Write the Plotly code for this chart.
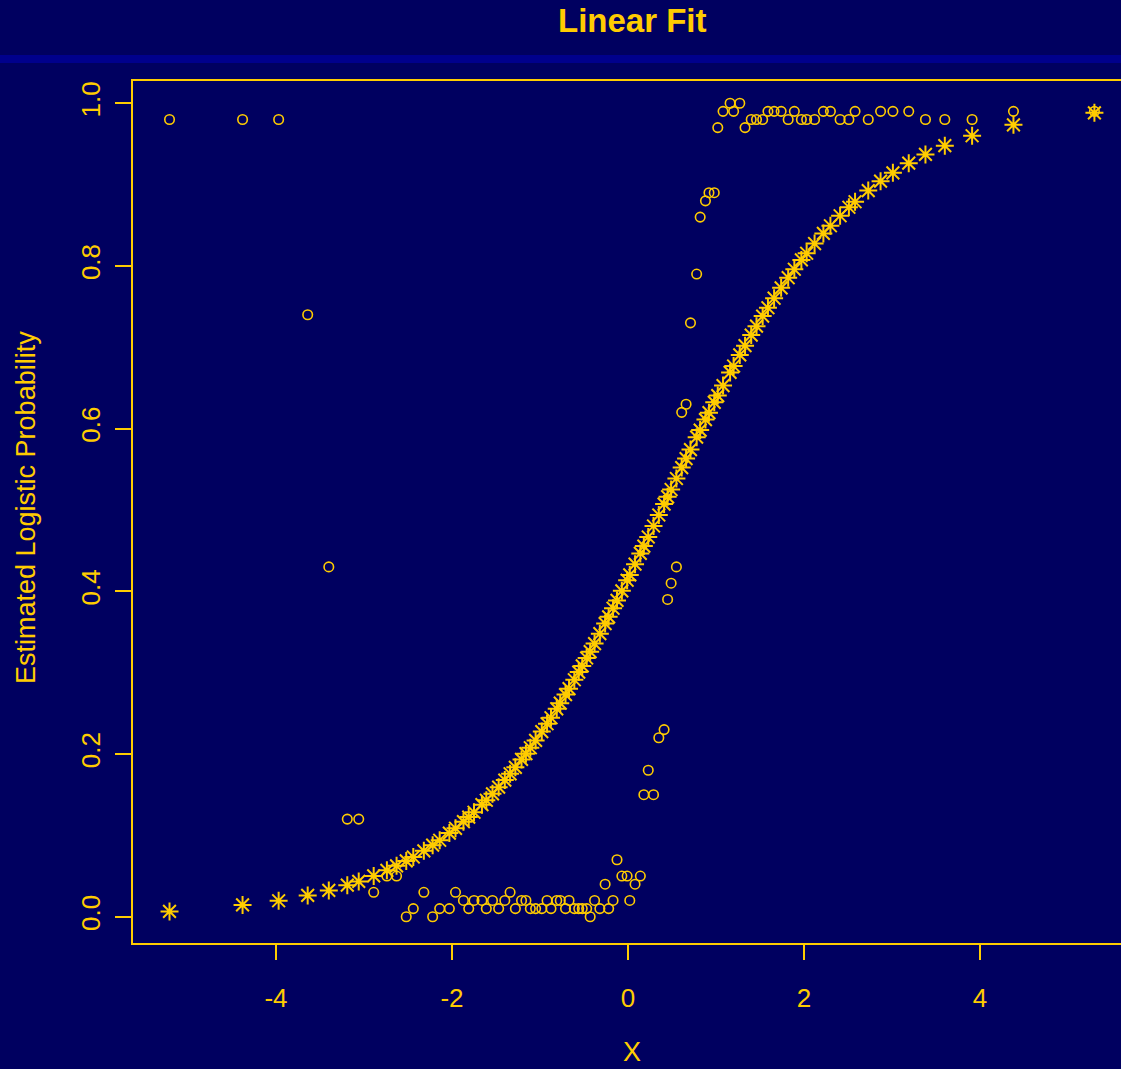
import plotly.graph_objects as go

# ---- data ----
x_values = [
    -5.21, -4.38, -3.97, -3.64, -3.40, -3.19, -3.06, -2.89, -2.74, -2.63,
    -2.52, -2.44, -2.32, -2.22, -2.14, -2.03, -1.96, -1.87, -1.81, -1.75,
    -1.66, -1.61, -1.54, -1.47, -1.40, -1.34, -1.28, -1.21, -1.16, -1.11,
    -1.05, -0.98, -0.92, -0.875, -0.81, -0.77, -0.71, -0.67, -0.61, -0.56,
    -0.52, -0.47, -0.43, -0.38, -0.32, -0.26, -0.22, -0.17, -0.125, -0.07,
    -0.01, 0.02, 0.08, 0.14, 0.18, 0.23, 0.29, 0.35, 0.41, 0.45,
    0.49, 0.55, 0.61, 0.66, 0.71, 0.78, 0.82, 0.88, 0.92, 0.98,
    1.02, 1.08, 1.16, 1.20, 1.27, 1.33, 1.40, 1.46, 1.53, 1.59,
    1.66, 1.74, 1.82, 1.89, 1.97, 2.03, 2.12, 2.22, 2.30, 2.41,
    2.51, 2.58, 2.73, 2.87, 3.01, 3.19, 3.38, 3.60, 3.91, 4.38, 5.30,
]

observed_prop = [
    0.98, 0.98, 0.98, 0.74, 0.43, 0.12, 0.12, 0.03, 0.05, 0.05,
    0.00, 0.01, 0.03, 0.00, 0.01, 0.01, 0.03, 0.02, 0.01, 0.02,
    0.02, 0.01, 0.02, 0.01, 0.02, 0.03, 0.01, 0.02, 0.02, 0.01,
    0.01, 0.01, 0.02, 0.01, 0.02, 0.02, 0.01, 0.02, 0.01, 0.01,
    0.01, 0.01, 0.00, 0.02, 0.01, 0.04, 0.01, 0.02, 0.07, 0.05,
    0.05, 0.02, 0.04, 0.05, 0.15, 0.18, 0.15, 0.22, 0.23, 0.39,
    0.41, 0.43, 0.62, 0.63, 0.73, 0.79, 0.86, 0.88, 0.89, 0.89,
    0.97, 0.99, 1.00, 0.99, 1.00, 0.97, 0.98, 0.98, 0.98, 0.99,
    0.99, 0.99, 0.98, 0.99, 0.98, 0.98, 0.98, 0.99, 0.99, 0.98,
    0.98, 0.99, 0.98, 0.99, 0.99, 0.99, 0.98, 0.98, 0.98, 0.99, 0.99,
]

fitted_prob = [
    0.0065, 0.0145, 0.0196, 0.0262, 0.0323, 0.0388, 0.0434, 0.0502, 0.0570, 0.0626,
    0.0686, 0.0734, 0.0810, 0.0880, 0.0940, 0.1028, 0.1087, 0.1168, 0.1225, 0.1284,
    0.1377, 0.1432, 0.1511, 0.1593, 0.1680, 0.1757, 0.1836, 0.1934, 0.2004, 0.2077,
    0.2167, 0.2276, 0.2372, 0.2446, 0.2556, 0.2625, 0.2731, 0.2803, 0.2913, 0.3007,
    0.3083, 0.3180, 0.3258, 0.3358, 0.3479, 0.3603, 0.3686, 0.3792, 0.3888, 0.4006,
    0.4136, 0.4202, 0.4334, 0.4466, 0.4556, 0.4668, 0.4803, 0.4938, 0.5072, 0.5162,
    0.5252, 0.5387, 0.5521, 0.5632, 0.5742, 0.5895, 0.5982, 0.6111, 0.6196, 0.6323,
    0.6406, 0.6529, 0.6691, 0.6770, 0.6906, 0.7020, 0.7150, 0.7259, 0.7383, 0.7486,
    0.7603, 0.7731, 0.7855, 0.7959, 0.8074, 0.8156, 0.8275, 0.8399, 0.8494, 0.8617,
    0.8721, 0.8789, 0.8926, 0.9042, 0.9144, 0.9263, 0.9371, 0.9478, 0.9600, 0.9734, 0.9882,
]

x_ticks = [-4, -2, 0, 2, 4]
x_tick_labels = ["-4", "-2", "0", "2", "4"]
y_ticks = [0.0, 0.2, 0.4, 0.6, 0.8, 1.0]
y_tick_labels = ["0.0", "0.2", "0.4", "0.6", "0.8", "1.0"]

title_text = "Linear Fit"
x_title = "X"
y_title = "Estimated Logistic Probability"

# ---- styling ----
BG = "#000060"
BAND = "#00008C"
FG = "#FFCC00"
FONT = "Liberation Sans, Arial, sans-serif"

W, H = 1121, 1069
L, R, T, B = 133, 0, 81, 126
plot_w = W - L - R
plot_h = H - T - B


def px_to_paper_x(px):
    return (px - L) / plot_w


def px_to_paper_y(py):
    return (H - B - py) / plot_h


fig = go.Figure()

fig.add_trace(go.Scatter(
    x=x_values, y=observed_prop, mode="markers",
    marker=dict(symbol="circle-open", size=9.5, color=FG, line=dict(color=FG, width=1.6)),
    showlegend=False, cliponaxis=False,
))
fig.add_trace(go.Scatter(
    x=x_values, y=fitted_prob, mode="markers",
    marker=dict(symbol="asterisk-open", size=15, color=FG, line=dict(color=FG, width=2)),
    showlegend=False, cliponaxis=False,
))

fig.update_layout(
    width=W, height=H,
    margin=dict(l=L, r=R, t=T, b=B, pad=0),
    paper_bgcolor=BG, plot_bgcolor=BG,
    font=dict(family=FONT, color=FG, size=26),
    xaxis=dict(
        range=[-5.625, 5.602], tickvals=x_ticks, ticktext=x_tick_labels,
        showgrid=False, zeroline=False,
        showline=True, linecolor=FG, linewidth=1.5, mirror=True,
        ticks="outside", ticklen=15, tickwidth=1.5, tickcolor=FG,
        tickfont=dict(family=FONT, size=26, color=FG),
        ticklabelstandoff=16,
    ),
    yaxis=dict(
        range=[-0.0323, 1.0273], tickvals=y_ticks, ticktext=y_tick_labels,
        showgrid=False, zeroline=False,
        showline=True, linecolor=FG, linewidth=1.5,
        ticks="outside", ticklen=16, tickwidth=1.5, tickcolor=FG,
        tickangle=-90,
        tickfont=dict(family=FONT, size=26, color=FG),
        ticklabelstandoff=5,
    ),
    shapes=[dict(
        type="rect", xref="paper", yref="paper",
        x0=px_to_paper_x(0), x1=px_to_paper_x(W),
        y0=px_to_paper_y(63), y1=px_to_paper_y(55),
        fillcolor=BAND, line=dict(width=0), layer="below",
    )],
    annotations=[
        dict(text="<b>%s</b>" % title_text, xref="paper", yref="paper",
             x=px_to_paper_x(632.5), y=px_to_paper_y(21),
             xanchor="center", yanchor="middle", showarrow=False,
             font=dict(family=FONT, size=33, color=FG)),
        dict(text=x_title, xref="paper", yref="paper",
             x=px_to_paper_x(632), y=px_to_paper_y(1052),
             xanchor="center", yanchor="middle", showarrow=False,
             font=dict(family=FONT, size=27, color=FG)),
        dict(text=y_title, xref="paper", yref="paper",
             x=px_to_paper_x(26), y=px_to_paper_y(508),
             xanchor="center", yanchor="middle", showarrow=False, textangle=-90,
             font=dict(family=FONT, size=27, color=FG)),
    ],
)

fig.write_html("out.html")
